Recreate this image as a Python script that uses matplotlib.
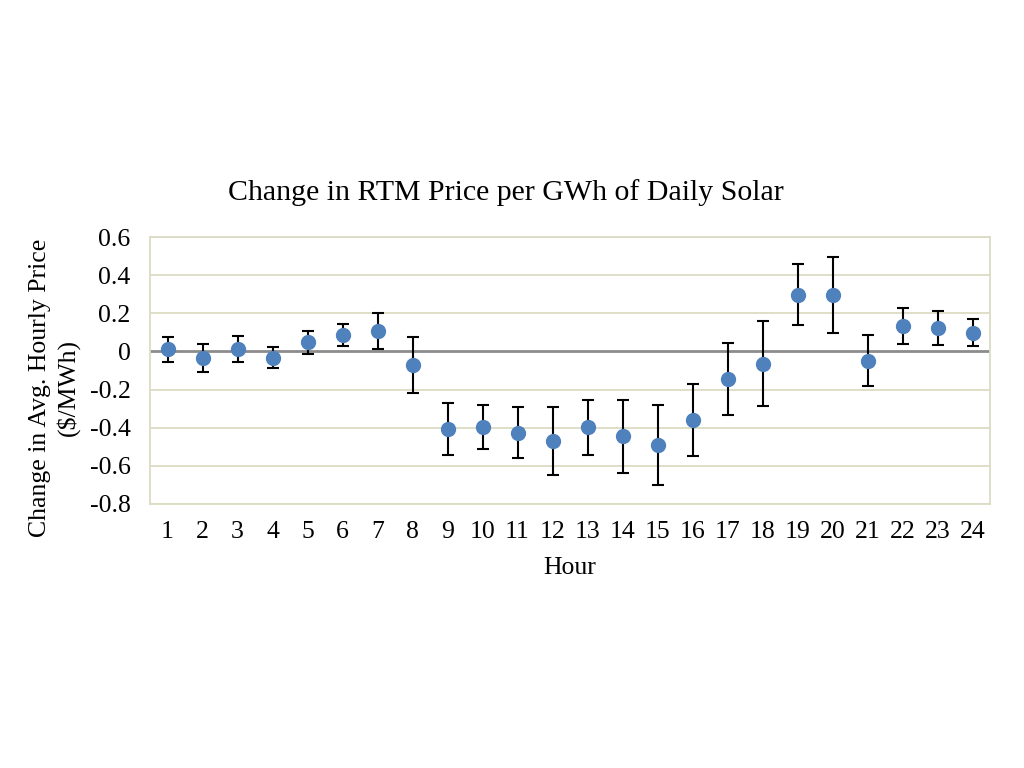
import matplotlib
matplotlib.use('Agg')
from matplotlib import pyplot as plt

# dados
horas = list(range(1, 25))
variacao = [0.012, -0.035, 0.012, -0.032, 0.047, 0.086, 0.107, -0.072,
            -0.407, -0.396, -0.426, -0.470, -0.398, -0.446, -0.491, -0.360,
            -0.144, -0.065, 0.298, 0.295, -0.049, 0.133, 0.121, 0.098]
erro = [0.065, 0.075, 0.070, 0.053, 0.058, 0.058, 0.094, 0.146,
        0.134, 0.116, 0.132, 0.180, 0.143, 0.190, 0.210, 0.190,
        0.187, 0.222, 0.160, 0.198, 0.134, 0.093, 0.089, 0.071]
yticks = [0.6, 0.4, 0.2, 0, -0.2, -0.4, -0.6, -0.8]

plt.rcParams['font.family'] = ['Liberation Serif', 'DejaVu Serif']

W, H = 1024, 768
fig = plt.figure(figsize=(W / 100, H / 100), dpi=100)
ax = fig.add_axes([150 / W, 1 - 504 / H, 840 / W, 267 / H])

grade = '#dcdcc4'
for y in yticks:
    if y != 0:
        ax.axhline(y, color=grade, lw=1.3, zorder=0)
ax.axhline(0, color='#8c8c8c', lw=2, zorder=1)

ax.errorbar(horas, variacao, yerr=erro, fmt='o', color='#4f81bd',
            ms=10, ecolor='black', elinewidth=1.5, capsize=4,
            capthick=1.5, zorder=3)

ax.set_xlim(0.5, 24.5)
ax.set_ylim(-0.8, 0.6)
ax.set_xticks(horas)
ax.set_yticks(yticks)
ax.set_yticklabels(['0.6', '0.4', '0.2', '0', '-0.2', '-0.4', '-0.6', '-0.8'])
ax.tick_params(length=0, labelsize=18.5)
ax.tick_params(axis='x', pad=12)
ax.tick_params(axis='y', pad=14)
for s in ax.spines.values():
    s.set_color(grade)
    s.set_linewidth(1.3)

# títulos posicionados em pixels
fig.text(506 / W, 1 - 193 / H, 'Change in RTM Price per GWh of Daily Solar',
         fontsize=21.5, ha='center', va='center')
fig.text(570 / W, 1 - 568 / H, 'Hour', fontsize=18.5, ha='center', va='center')
fig.text(40 / W, 1 - 388 / H, 'Change in Avg. Hourly Price', fontsize=18.5,
         rotation=90, ha='center', va='center')
fig.text(68 / W, 1 - 388 / H, '($/MWh)', fontsize=18.5,
         rotation=90, ha='center', va='center')

fig.savefig('out.png', dpi=100)
